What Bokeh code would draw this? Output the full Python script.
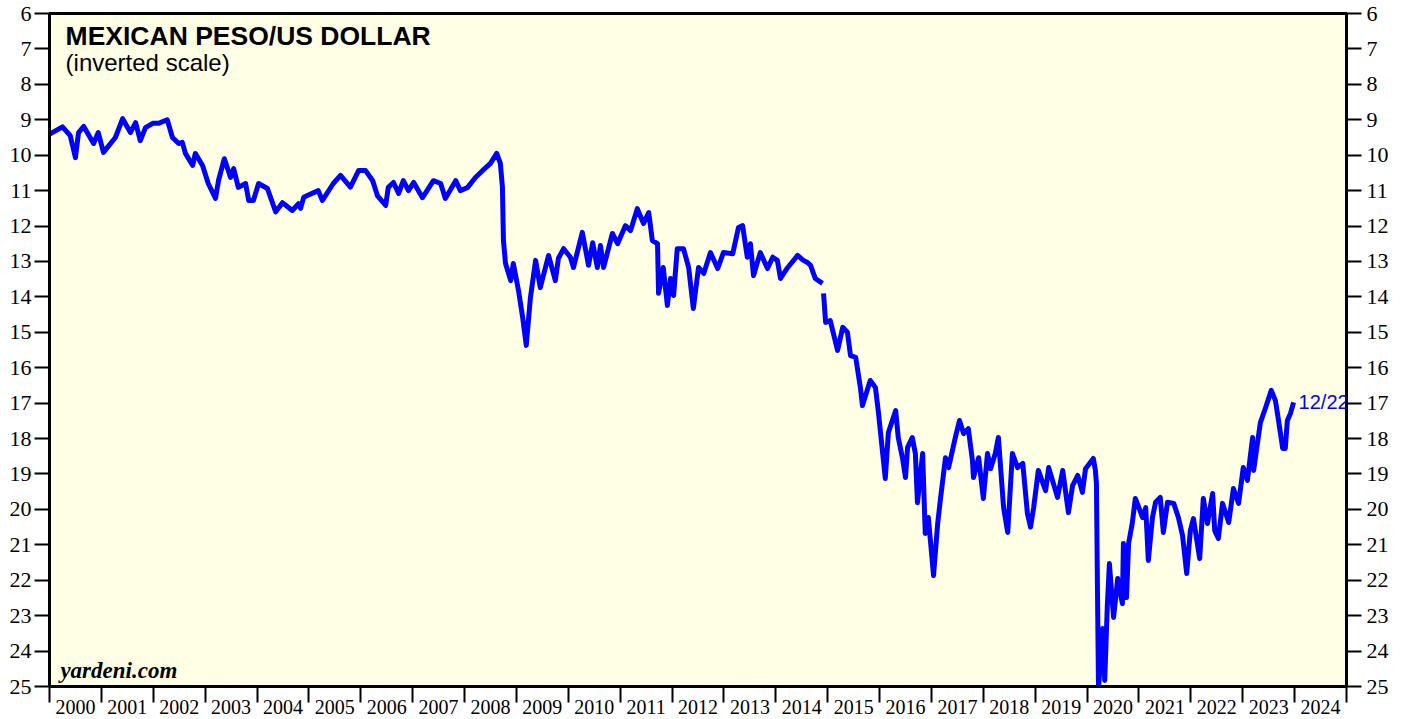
from bokeh.plotting import figure
from bokeh.models import Range1d, FixedTicker, LinearAxis, Label
from bokeh.embed import file_html
from bokeh.resources import INLINE

nan = float("nan")

dates = [
    2000.00, 2000.02, 2000.25, 2000.40, 2000.50, 2000.56, 2000.66, 2000.85, 2000.94, 2001.04,
    2001.27, 2001.41, 2001.56, 2001.66, 2001.75, 2001.85, 2001.99, 2002.10, 2002.27, 2002.37,
    2002.49, 2002.56, 2002.62, 2002.76, 2002.81, 2002.95, 2003.06, 2003.20, 2003.26, 2003.37,
    2003.49, 2003.55, 2003.64, 2003.78, 2003.84, 2003.93, 2004.03, 2004.20, 2004.36, 2004.49,
    2004.68, 2004.80, 2004.84, 2004.90, 2004.97, 2005.18, 2005.26, 2005.47, 2005.61, 2005.80,
    2005.96, 2006.09, 2006.23, 2006.32, 2006.48, 2006.53, 2006.63, 2006.73, 2006.82, 2006.92,
    2007.02, 2007.19, 2007.40, 2007.54, 2007.63, 2007.83, 2007.92, 2008.06, 2008.21, 2008.35,
    2008.50, 2008.62, 2008.69, 2008.73, 2008.75, 2008.79, 2008.89, 2008.94, 2009.04, 2009.12,
    2009.19, 2009.27, 2009.37, 2009.46, 2009.62, 2009.75, 2009.81, 2009.91, 2010.04, 2010.10,
    2010.27, 2010.39, 2010.47, 2010.56, 2010.62, 2010.68, 2010.85, 2010.95, 2011.10, 2011.20,
    2011.33, 2011.45, 2011.55, 2011.62, 2011.72, 2011.74, 2011.83, 2011.91, 2011.97, 2012.03,
    2012.10, 2012.22, 2012.32, 2012.41, 2012.51, 2012.61, 2012.74, 2012.88, 2012.99, 2013.17,
    2013.28, 2013.36, 2013.45, 2013.51, 2013.57, 2013.70, 2013.84, 2013.94, 2014.03, 2014.09,
    2014.23, 2014.42, 2014.53, 2014.61, 2014.67, 2014.76, 2014.90, 2014.91, 2014.92, 2014.96,
    2015.05, 2015.19, 2015.29, 2015.38, 2015.44, 2015.54, 2015.63, 2015.67, 2015.82, 2015.92,
    2015.98, 2016.06, 2016.11, 2016.17, 2016.31, 2016.36, 2016.44, 2016.50, 2016.54, 2016.63,
    2016.69, 2016.73, 2016.83, 2016.88, 2016.94, 2017.04, 2017.12, 2017.17, 2017.27, 2017.33,
    2017.46, 2017.54, 2017.62, 2017.71, 2017.79, 2017.81, 2017.91, 2018.00, 2018.08, 2018.14,
    2018.23, 2018.29, 2018.39, 2018.47, 2018.56, 2018.66, 2018.76, 2018.85, 2018.91, 2018.97,
    2019.06, 2019.20, 2019.26, 2019.43, 2019.53, 2019.64, 2019.72, 2019.82, 2019.91, 2019.97,
    2020.12, 2020.16, 2020.18, 2020.20, 2020.22, 2020.30, 2020.34, 2020.39, 2020.43, 2020.51,
    2020.59, 2020.68, 2020.70, 2020.76, 2020.80, 2020.87, 2020.93, 2021.07, 2021.13, 2021.18,
    2021.26, 2021.32, 2021.41, 2021.47, 2021.55, 2021.67, 2021.76, 2021.84, 2021.92, 2021.99,
    2022.05, 2022.17, 2022.24, 2022.32, 2022.42, 2022.46, 2022.53, 2022.61, 2022.73, 2022.82,
    2022.92, 2023.01, 2023.09, 2023.19, 2023.21, 2023.34, 2023.44, 2023.55, 2023.63, 2023.69,
    2023.77, 2023.82, 2023.86, 2023.92, 2023.98,
]

peso = [
    9.40, 9.39, 9.20, 9.45, 10.07, 9.36, 9.19, 9.67, 9.36, 9.92,
    9.50, 8.97, 9.36, 9.08, 9.59, 9.22, 9.10, 9.10, 9.00, 9.50,
    9.67, 9.64, 9.95, 10.29, 9.95, 10.29, 10.80, 11.22, 10.70, 10.10,
    10.63, 10.38, 10.91, 10.80, 11.28, 11.28, 10.80, 10.94, 11.60, 11.34,
    11.56, 11.37, 11.50, 11.19, 11.14, 11.00, 11.28, 10.80, 10.57, 10.90,
    10.43, 10.43, 10.72, 11.14, 11.42, 10.91, 10.77, 11.08, 10.72, 11.00,
    10.77, 11.20, 10.72, 10.80, 11.22, 10.72, 11.00, 10.91, 10.63, 10.43,
    10.23, 9.95, 10.23, 10.90, 12.41, 13.06, 13.54, 13.06, 13.82, 14.58,
    15.37, 14.02, 12.97, 13.74, 12.83, 13.54, 12.91, 12.64, 12.88, 13.17,
    12.18, 13.11, 12.47, 13.17, 12.55, 13.17, 12.21, 12.50, 11.99, 12.13,
    11.51, 11.93, 11.62, 12.41, 12.50, 13.90, 13.17, 14.24, 13.48, 13.96,
    12.64, 12.64, 13.17, 14.33, 13.17, 13.34, 12.75, 13.20, 12.75, 12.78,
    12.04, 11.99, 12.88, 12.50, 13.40, 12.75, 13.20, 12.88, 12.97, 13.48,
    13.17, 12.83, 12.97, 13.03, 13.11, 13.48, 13.62, nan, 13.90, 14.72,
    14.67, 15.51, 14.86, 15.00, 15.66, 15.71, 16.56, 17.07, 16.36, 16.56,
    17.29, 18.42, 19.13, 17.83, 17.21, 17.97, 18.54, 19.10, 18.25, 17.97,
    18.42, 19.81, 18.42, 20.68, 20.23, 21.87, 20.40, 19.75, 18.54, 18.82,
    17.97, 17.49, 17.86, 17.72, 18.62, 19.10, 18.54, 19.69, 18.42, 18.85,
    18.42, 17.97, 19.95, 20.65, 18.42, 18.82, 18.70, 20.12, 20.50, 19.95,
    18.90, 19.47, 18.82, 19.66, 18.90, 20.09, 19.33, 19.04, 19.52, 18.85,
    18.56, 18.90, 19.27, 22.29, 25.06, 23.36, 24.83, 22.71, 21.53, 23.05,
    21.95, 22.66, 20.96, 22.49, 20.96, 20.40, 19.69, 20.23, 19.95, 21.44,
    20.23, 19.80, 19.66, 20.65, 19.80, 19.83, 20.23, 20.74, 21.81, 20.60,
    20.26, 21.39, 19.69, 20.40, 19.55, 20.60, 20.82, 19.83, 20.37, 19.41,
    19.83, 18.82, 19.18, 17.97, 18.90, 17.55, 17.13, 16.64, 16.93, 17.49,
    18.28, 18.28, 17.49, 17.29, 16.98,
]

year_labels = [str(y) for y in range(2000, 2025)]
year_mid = [y + 0.5 for y in range(2000, 2025)]
year_bounds = list(range(2000, 2026))
y_ticks = list(range(6, 26))

p = figure(
    width=1400, height=719,
    x_range=Range1d(2000, 2025), y_range=Range1d(25, 6),
    output_backend="svg", toolbar_location=None,
    min_border_left=49, min_border_right=54, min_border_top=13, min_border_bottom=33,
    background_fill_color="#FFFFE6", border_fill_color="white",
    outline_line_color="black", outline_line_width=3,
)
p.grid.visible = False

# bottom axis: labels centred in each year, ticks at year boundaries
xa = p.xaxis[0]
xa.ticker = FixedTicker(ticks=year_mid, minor_ticks=year_bounds)
xa.major_label_overrides = {m: t for m, t in zip(year_mid, year_labels)}
xa.major_tick_out = 0
xa.major_tick_in = 0
xa.minor_tick_out = 16
xa.minor_tick_in = 0
xa.minor_tick_line_width = 2
xa.minor_tick_line_color = "black"
xa.major_label_text_font = "Liberation Serif"
xa.major_label_text_font_size = "20px"
xa.major_label_text_color = "black"
xa.major_label_standoff = -3
xa.axis_line_width = 3
xa.axis_line_color = "black"

def style_y(ax, standoff):
    ax.ticker = FixedTicker(ticks=y_ticks, minor_ticks=[])
    ax.major_tick_out = 15
    ax.major_tick_in = 0
    ax.major_tick_line_width = 2
    ax.major_tick_line_color = "black"
    ax.minor_tick_out = 0
    ax.minor_tick_in = 0
    ax.major_label_standoff = standoff
    ax.major_label_text_font = "Liberation Serif"
    ax.major_label_text_font_size = "22px"
    ax.major_label_text_color = "black"
    ax.axis_line_width = 3
    ax.axis_line_color = "black"

style_y(p.yaxis[0], 3)
ra = LinearAxis()
style_y(ra, 5)
p.add_layout(ra, "right")

p.line(dates, peso, line_color="#0000FF", line_width=5, line_join="round")

p.add_layout(Label(x=2000.31, y=6.63, text="MEXICAN PESO/US DOLLAR",
                   text_font="Liberation Sans", text_font_style="bold",
                   text_font_size="26.5px", text_color="black", text_baseline="alphabetic"))
p.add_layout(Label(x=2000.31, y=7.37, text="(inverted scale)",
                   text_font="Liberation Sans", text_font_size="24px",
                   text_color="black", text_baseline="alphabetic"))
p.add_layout(Label(x=2000.21, y=24.55, text="yardeni.com",
                   text_font="Liberation Serif", text_font_style="bold italic",
                   text_font_size="23px", text_color="black", text_baseline="alphabetic"))
p.add_layout(Label(x=dates[-1], y=peso[-1], x_offset=5, text="12/22",
                   text_font="Liberation Sans", text_font_size="20px",
                   text_color="#0000FF", text_baseline="middle"))

open("out.html", "w").write(file_html(p, INLINE))
